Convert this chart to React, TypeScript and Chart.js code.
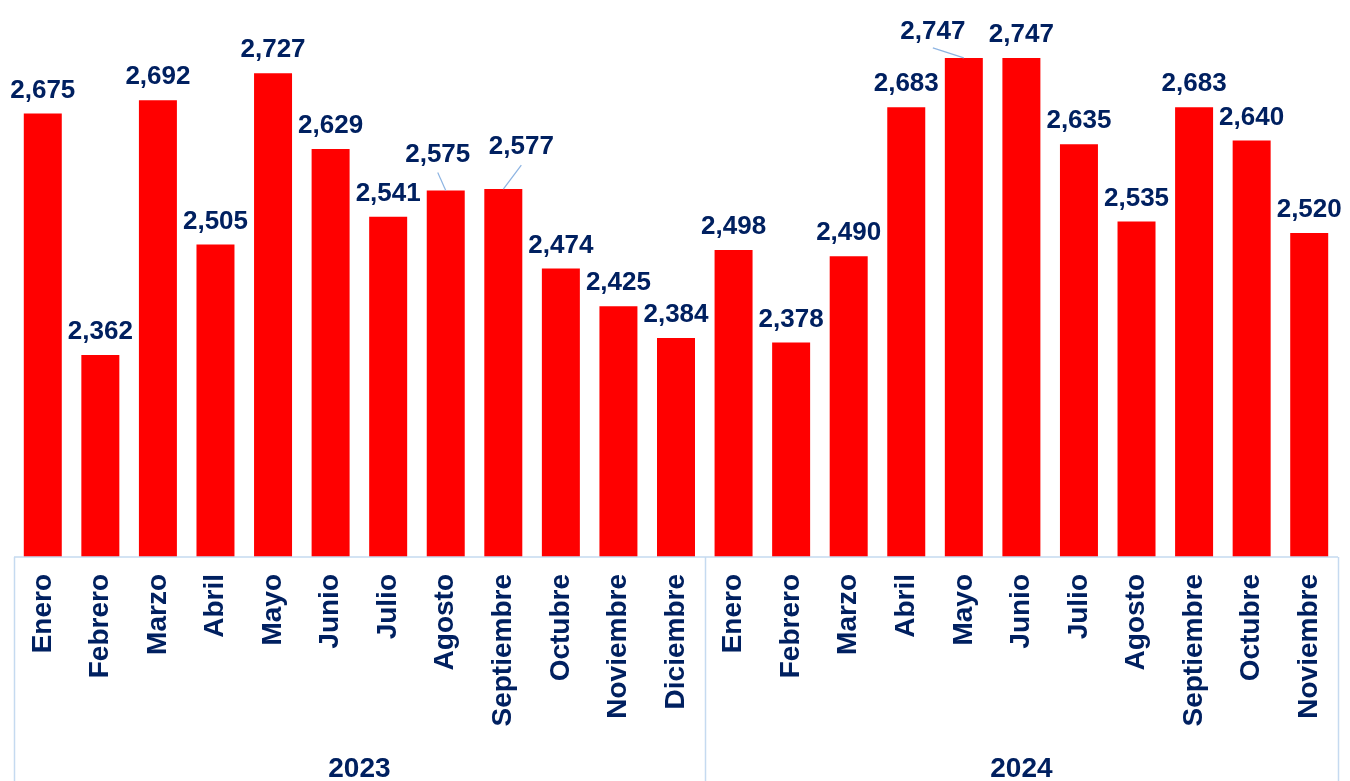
import React, { useEffect, useRef } from "react";
import { Chart, registerables } from "chart.js";

Chart.register(...registerables);

const months2023 = ["Enero", "Febrero", "Marzo", "Abril", "Mayo", "Junio", "Julio", "Agosto", "Septiembre", "Octubre", "Noviembre", "Diciembre"];
const values2023 = [2675, 2362, 2692, 2505, 2727, 2629, 2541, 2575, 2577, 2474, 2425, 2384];
const months2024 = ["Enero", "Febrero", "Marzo", "Abril", "Mayo", "Junio", "Julio", "Agosto", "Septiembre", "Octubre", "Noviembre"];
const values2024 = [2498, 2378, 2490, 2683, 2747, 2747, 2635, 2535, 2683, 2640, 2520];
const years = ["2023", "2024"];

const NAVY = "#002060";
const AXIS_BLUE = "#C5DAF0";
const LEADER_BLUE = "#8DB4E2";
const FONT = "'Liberation Sans', Arial, sans-serif";

// label nudges (dx, dy in px) for labels placed off-centre with leader lines
const labelNudges: Record<number, [number, number]> = { 7: [-8, -13], 8: [18, -19], 16: [-31, -3] };

const labelsPlugin = {
  id: "customLabels",
  afterDatasetsDraw(chart: any) {
    const ctx = chart.ctx;
    const meta = chart.getDatasetMeta(0);
    const data = chart.data.datasets[0].data as number[];
    ctx.save();
    ctx.font = `bold 26px ${FONT}`;
    ctx.fillStyle = NAVY;
    ctx.textAlign = "center";
    ctx.textBaseline = "middle";
    meta.data.forEach((bar: any, i: number) => {
      const nudge = labelNudges[i] || [0, 0];
      const cx = bar.x + nudge[0];
      const cy = bar.y - 23 + nudge[1];
      if (labelNudges[i]) {
        ctx.strokeStyle = LEADER_BLUE;
        ctx.lineWidth = 1.2;
        ctx.beginPath();
        ctx.moveTo(cx, cy + (nudge[0] < -20 ? 16 : 18));
        ctx.lineTo(bar.x, bar.y);
        ctx.stroke();
      }
      ctx.fillText(data[i].toLocaleString("en-US"), cx, cy);
    });
    ctx.restore();
  },
  afterDraw(chart: any) {
    const ctx = chart.ctx;
    const area = chart.chartArea;
    const bottom = chart.height;
    const n1 = months2023.length;
    const n = n1 + months2024.length;
    const step = (area.right - area.left) / n;
    const splitX = area.left + step * n1;
    ctx.save();
    ctx.strokeStyle = AXIS_BLUE;
    ctx.lineWidth = 1.5;
    ctx.beginPath();
    ctx.moveTo(area.left, area.bottom);
    ctx.lineTo(area.right, area.bottom);
    [area.left, splitX, area.right].forEach((px) => {
      ctx.moveTo(Math.round(px) + 0.5, area.bottom);
      ctx.lineTo(Math.round(px) + 0.5, bottom);
    });
    ctx.stroke();
    ctx.font = `bold 28px ${FONT}`;
    ctx.fillStyle = NAVY;
    ctx.textAlign = "center";
    ctx.textBaseline = "alphabetic";
    ctx.fillText(years[0], (area.left + splitX) / 2, 777);
    ctx.fillText(years[1], (splitX + area.right) / 2, 777);
    ctx.restore();
  },
};

export default function App() {
  const ref = useRef<HTMLCanvasElement | null>(null);
  useEffect(() => {
    if (!ref.current) return;
    const labels = [...months2023, ...months2024];
    const values = [...values2023, ...values2024];
    const chart = new Chart(ref.current, {
      type: "bar",
      data: {
        labels,
        datasets: [
          {
            data: values,
            backgroundColor: "#FF0000",
            borderWidth: 0,
            barPercentage: 0.66,
            categoryPercentage: 1,
          },
        ],
      },
      options: {
        animation: false,
        responsive: true,
        maintainAspectRatio: false,
        layout: { padding: { left: 14, right: 12, top: 17, bottom: 0 } },
        plugins: { legend: { display: false }, tooltip: { enabled: false } },
        scales: {
          y: { display: false, min: 2100, max: 2800 },
          x: {
            grid: { display: false, drawTicks: false },
            border: { display: false },
            afterFit: (scale: any) => {
              scale.height = 224;
              scale.paddingLeft = 0;
              scale.paddingRight = 0;
            },
            ticks: {
              autoSkip: false,
              maxRotation: 90,
              minRotation: 90,
              padding: 17,
              color: NAVY,
              font: { family: FONT, size: 28, weight: "bold" },
            },
          },
        },
      },
      plugins: [labelsPlugin],
    });
    return () => chart.destroy();
  }, []);
  return (
    <div style={{ position: "absolute", left: 0, top: 0, width: 1350, height: 781, background: "#fff" }}>
      <canvas ref={ref} />
    </div>
  );
}
